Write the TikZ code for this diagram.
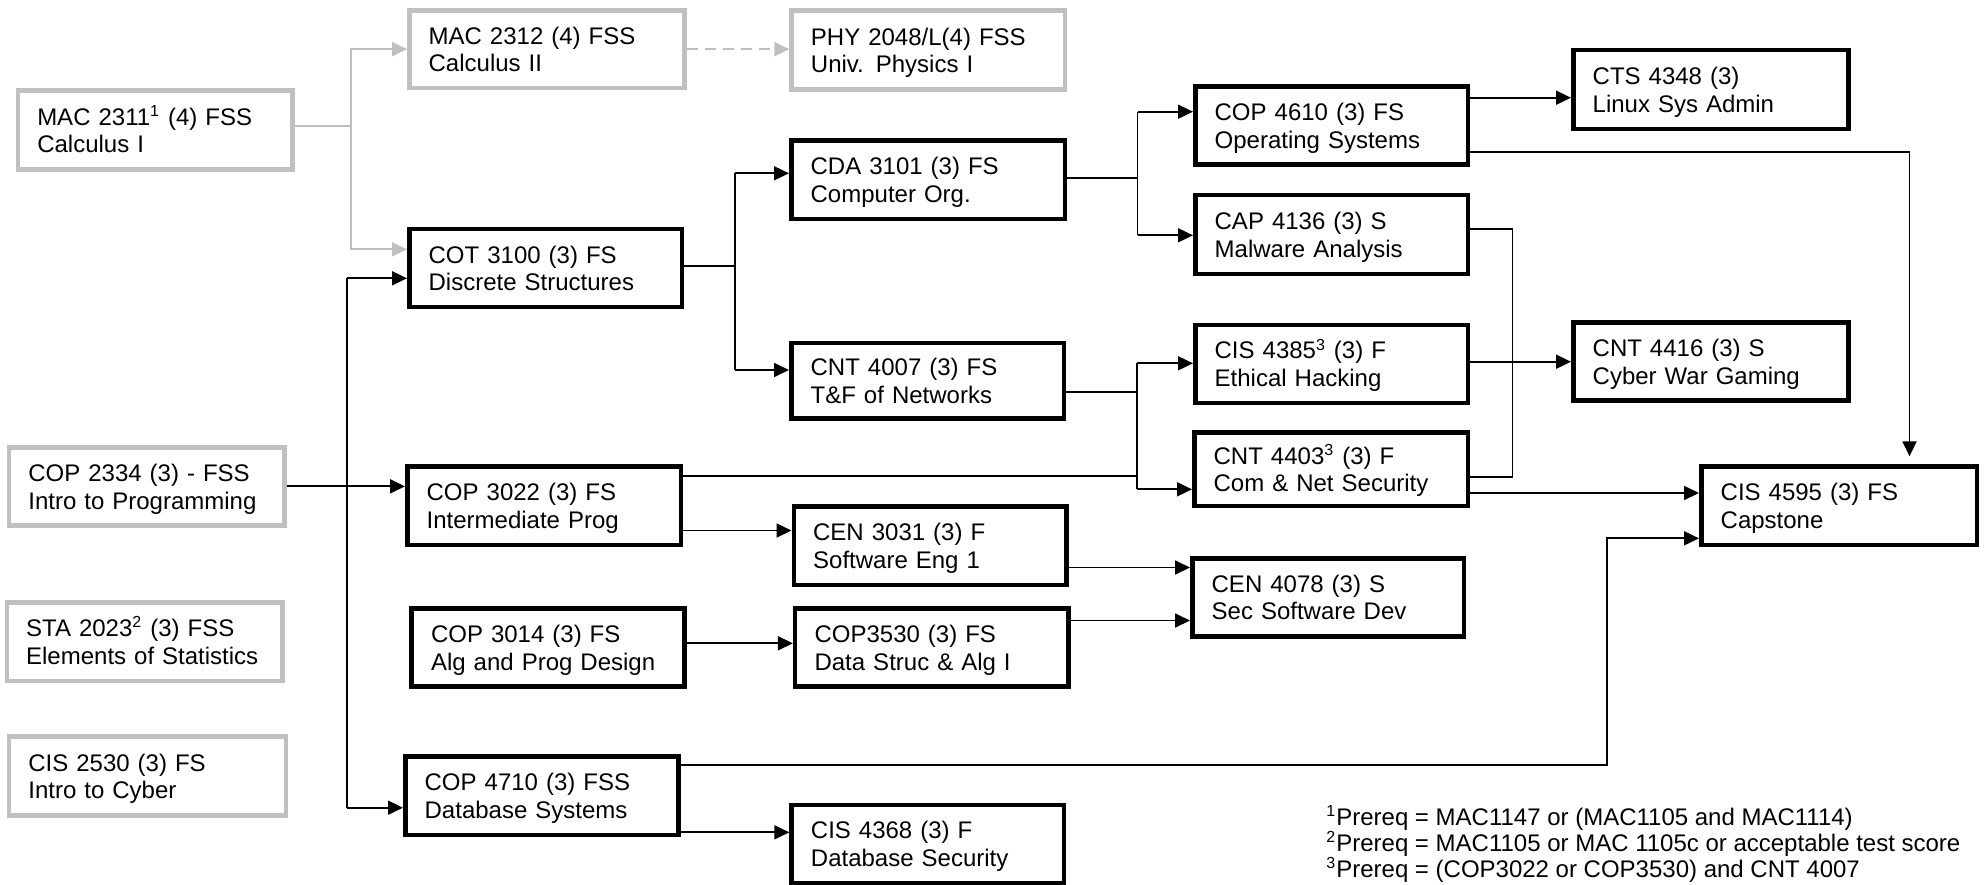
\documentclass[tikz,border=0pt]{standalone}
\usepackage{fontspec}
\setmainfont{Liberation Sans}
\usetikzlibrary{arrows.meta}
\definecolor{boxgray}{HTML}{C0C0C0}
\definecolor{linegray}{HTML}{BFBFBF}
\newcommand\course[7]{%
  \pgfmathsetmacro\cw{(#5-#3-4.5)*0.5}%
  \pgfmathsetmacro\ch{(#6-#4-4.5)*0.5}%
  \pgfmathsetmacro\tw{\cw-19.4}%
  \node[#1, anchor=north west, minimum width=\cw pt, minimum height=\ch pt, text width=\tw pt] (#2) at (#3,#4) {#7};}
\begin{document}
\begin{tikzpicture}[x=0.5pt,y=-0.5pt,
  box/.style={draw=black, line width=2.25pt, fill=white, inner xsep=9.7pt, inner ysep=0pt,
    align=left, font=\fontsize{12pt}{13.85pt}\selectfont, text height=9pt, text depth=14pt},
  gbox/.style={box, draw=boxgray},
  conn/.style={line width=0.9pt, draw=black},
  arr/.style={conn, -{Triangle[length=7.5pt,width=7pt]}},
  gline/.style={line width=0.9pt, draw=linegray},
  garr/.style={gline, -{Triangle[length=7.5pt,width=7pt]}},
  fnote/.style={inner sep=0pt, anchor=base west, font=\fontsize{12pt}{13pt}\selectfont}]
\useasboundingbox (0,0) rectangle (1984,884);
\fill[white] (0,0) rectangle (1984,884);
% gray boxes
\course{gbox}{mac2311}{15.6}{88.3}{294.6}{171.7}{MAC 2311\textsuperscript{1} (4) FSS\\Calculus I}
\course{gbox}{mac2312}{407}{8.3}{686.6}{90}{MAC 2312 (4) FSS\\Calculus II}
\course{gbox}{phy2048}{789.3}{8.3}{1067}{91.7}{PHY 2048/L(4) FSS\\Univ. Physics I}
\course{gbox}{cop2334}{6.7}{445}{286.6}{527.7}{COP 2334 (3) - FSS\\Intro to Programming}
\course{gbox}{sta2023}{4.5}{600}{284.8}{683.3}{STA 2023\textsuperscript{2} (3) FSS\\Elements of Statistics}
\course{gbox}{cis2530}{6.7}{734.3}{288.4}{817.7}{CIS 2530 (3) FS\\Intro to Cyber}
% black boxes
\course{box}{cot3100}{407}{226.7}{684.4}{309.3}{COT 3100 (3) FS\\Discrete Structures}
\course{box}{cda3101}{789}{138.3}{1067}{221}{CDA 3101 (3) FS\\Computer Org.}
\course{box}{cop4610}{1193}{84}{1470}{166.7}{COP 4610 (3) FS\\Operating Systems}
\course{box}{cap4136}{1193}{192.7}{1470}{276}{CAP 4136 (3) S\\Malware Analysis}
\course{box}{cts4348}{1571}{47.7}{1850.6}{131}{CTS 4348 (3)\\Linux Sys Admin}
\course{box}{cnt4007}{789}{340.7}{1066}{420.7}{CNT 4007 (3) FS\\T\&F of Networks}
\course{box}{cis4385}{1193}{322.7}{1470}{405}{CIS 4385\textsuperscript{3} (3) F\\Ethical Hacking}
\course{box}{cnt4403}{1192}{430}{1470}{508.3}{CNT 4403\textsuperscript{3} (3) F\\Com \& Net Security}
\course{box}{cnt4416}{1571}{320}{1850.6}{402.7}{CNT 4416 (3) S\\Cyber War Gaming}
\course{box}{cis4595}{1699}{464.3}{1979}{547.3}{CIS 4595 (3) FS\\Capstone}
\course{box}{cop3022}{405}{464.3}{683}{547.3}{COP 3022 (3) FS\\Intermediate Prog}
\course{box}{cen3031}{791.5}{504}{1068.7}{587.3}{CEN 3031 (3) F\\Software Eng 1}
\course{box}{cen4078}{1190}{556}{1466}{638.5}{CEN 4078 (3) S\\Sec Software Dev}
\course{box}{cop3014}{409.4}{606}{686.6}{688.7}{COP 3014 (3) FS\\Alg and Prog Design}
\course{box}{cop3530}{792.9}{606}{1070.5}{688.7}{COP3530 (3) FS\\Data Struc \& Alg I}
\course{box}{cop4710}{403}{754}{680.8}{837.3}{COP 4710 (3) FSS\\Database Systems}
\course{box}{cis4368}{789.3}{802.7}{1066}{885}{CIS 4368 (3) F\\Database Security}
% gray connectors
\coordinate (gJ) at (351,126);
\coordinate (gB) at (351,249.3);
\draw[gline] (mac2311.east |- gJ) -- (gJ);
\draw[garr] (gJ) |- (mac2312.west);
\draw[garr] (gJ) -- (gB) -- (cot3100.west |- gB);
\draw[garr, dash pattern=on 5.5pt off 3.5pt] (mac2312.east) -- (phy2048.west |- mac2312.east);
% left vertical bus
\coordinate (L1) at (347,278.3);
\coordinate (L2) at (347,807.7);
\draw[conn] (L1) -- (L2);
\draw[arr] (L1) -- (cot3100.west |- L1);
\draw[arr] (L2) -- (cop4710.west |- L2);
\draw[arr] (cop2334.east) -- (cop3022.west |- cop2334.east);
% COT3100 split
\coordinate (J2) at (735,266);
\coordinate (J2a) at (735,173.3);
\coordinate (J2b) at (735,370);
\draw[conn] (cot3100.east |- J2) -- (J2);
\draw[conn] (J2a) -- (J2b);
\draw[arr] (J2a) -- (cda3101.west |- J2a);
\draw[arr] (J2b) -- (cnt4007.west |- J2b);
% CDA3101 split
\coordinate (J3) at (1137.5,177.7);
\coordinate (J3a) at (1137.5,111.7);
\coordinate (J3b) at (1137.5,235.3);
\draw[conn] (cda3101.east |- J3) -- (J3);
\draw[conn] (J3a) -- (J3b);
\draw[arr] (J3a) -- (cop4610.west |- J3a);
\draw[arr] (J3b) -- (cap4136.west |- J3b);
% COP4610 outputs
\coordinate (c1) at (1520,97.7);
\draw[arr] (cop4610.east |- c1) -- (cts4348.west |- c1);
\coordinate (c2) at (1909.5,151.7);
\draw[arr, shorten >=4pt] (cop4610.east |- c2) -- (c2) -- (cis4595.north -| c2);
% CAP4136 to CNT4403 line
\coordinate (c3) at (1512.5,229.3);
\coordinate (c4) at (1512.5,477);
\draw[conn] (cap4136.east |- c3) -- (c3) -- (c4) -- (cnt4403.east |- c4);
% CIS4385 -> CNT4416
\coordinate (c5) at (1520,361.7);
\draw[arr] (cis4385.east |- c5) -- (cnt4416.west |- c5);
% CNT4007 split
\coordinate (J4) at (1136.6,391.7);
\coordinate (J4a) at (1136.6,363.3);
\coordinate (J4b) at (1136.6,489.3);
\draw[conn] (cnt4007.east |- J4) -- (J4);
\draw[conn] (J4a) -- (J4b);
\draw[arr] (J4a) -- (cis4385.west |- J4a);
\draw[arr] (J4b) -- (cnt4403.west |- J4b);
\coordinate (c6) at (1136.6,475.7);
\draw[conn] (cop3022.east |- c6) -- (c6);
% CNT4403 -> capstone
\coordinate (c7) at (1600,493);
\draw[arr] (cnt4403.east |- c7) -- (cis4595.west |- c7);
% COP3022 -> CEN3031
\coordinate (c8) at (740,530.5);
\draw[arr] (cop3022.east |- c8) -- (cen3031.west |- c8);
% CEN3031 -> CEN4078
\coordinate (c9) at (1130,567.5);
\draw[arr] (cen3031.east |- c9) -- (cen4078.west |- c9);
% COP3014 -> COP3530
\coordinate (c10) at (740,643.3);
\draw[arr] (cop3014.east |- c10) -- (cop3530.west |- c10);
% COP3530 -> CEN4078
\coordinate (c11) at (1130,620.5);
\draw[arr] (cop3530.east |- c11) -- (cen4078.west |- c11);
% COP4710 -> capstone
\coordinate (c12) at (1606.7,765);
\coordinate (c13) at (1606.7,538.3);
\draw[arr] (cop4710.east |- c12) -- (c12) -- (c13) -- (cis4595.west |- c13);
% COP4710 -> CIS4368
\coordinate (c14) at (740,832.3);
\draw[arr] (cop4710.east |- c14) -- (cis4368.west |- c14);
% footnotes
\node[fnote] (fn1) at (1326,825) {\textsuperscript{1}Prereq = MAC1147 or (MAC1105 and MAC1114)};
\node[fnote] (fn2) at (1326,851) {\textsuperscript{2}Prereq = MAC1105 or MAC 1105c or acceptable test score};
\node[fnote] (fn3) at (1326,877) {\textsuperscript{3}Prereq = (COP3022 or COP3530) and CNT 4007};
\end{tikzpicture}
\end{document}
